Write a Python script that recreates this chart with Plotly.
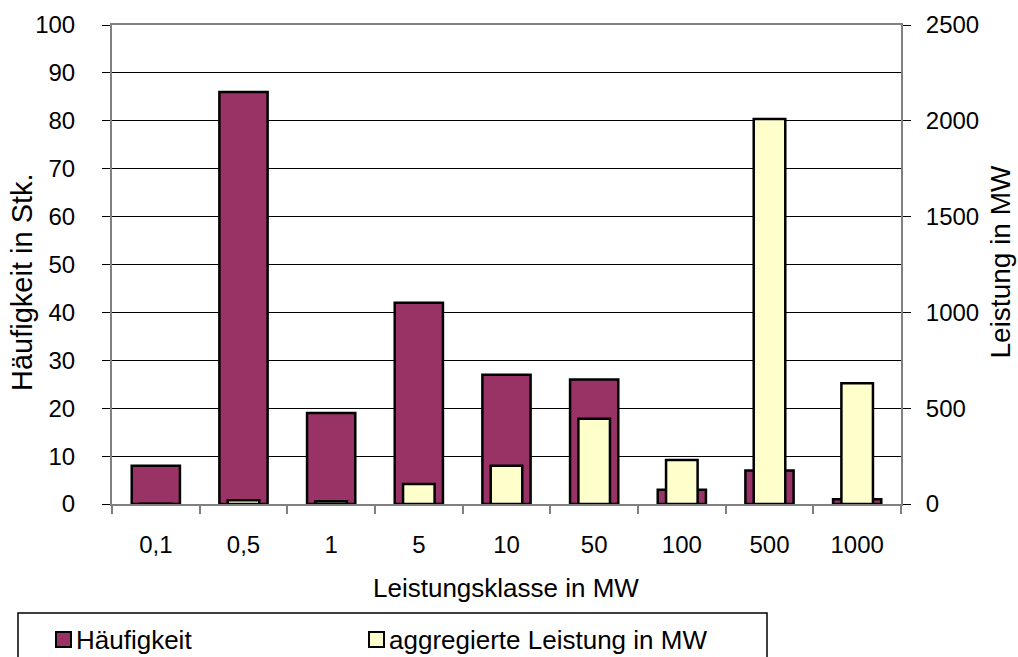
import plotly.graph_objects as go

# Leistungsklassen (MW)
klassen = ["0,1", "0,5", "1", "5", "10", "50", "100", "500", "1000"]
# Anzahl der Anlagen je Klasse
haeufigkeit = [8, 86, 19, 42, 27, 26, 3, 7, 1]
# Summierte Leistung je Klasse in MW
leistung = [0.8, 20, 15, 105, 200, 445, 230, 2010, 630]

left_ticks = list(range(0, 101, 10))
right_ticks = list(range(0, 2501, 500))

FONT = "Liberation Sans, Arial, sans-serif"
GREY = "#808080"
MAROON = "#993366"
CREAM = "#FFFFCC"

# plot area in pixels
L, R, T, B = 112, 901, 25, 504
PW, PH = R - L, B - T


def px(x):
    return (x - L) / PW


def py(y):
    return (B - y) / PH


fig = go.Figure()
fig.add_trace(go.Bar(
    x=klassen, y=haeufigkeit, name="Häufigkeit",
    width=0.55, yaxis="y",
    marker=dict(color=MAROON, line=dict(color="black", width=2.5)),
))
fig.add_trace(go.Bar(
    x=klassen, y=leistung, name="aggregierte Leistung in MW",
    width=0.36, yaxis="y2",
    marker=dict(color=CREAM, line=dict(color="black", width=2.5)),
))

# legend frame and swatches
shapes = [
    dict(type="rect", xref="paper", yref="paper",
         x0=px(18), x1=px(767), y0=py(613), y1=py(690),
         line=dict(color="black", width=1.5), fillcolor="rgba(0,0,0,0)"),
    dict(type="rect", xref="paper", yref="paper",
         x0=px(56), x1=px(71), y0=py(632), y1=py(647),
         line=dict(color="black", width=2), fillcolor=MAROON),
    dict(type="rect", xref="paper", yref="paper",
         x0=px(369), x1=px(384), y0=py(632), y1=py(647),
         line=dict(color="black", width=2), fillcolor=CREAM),
]

annotations = [
    dict(text="Häufigkeit", xref="paper", yref="paper",
         x=px(74), y=py(640), xanchor="left", yanchor="middle",
         showarrow=False, font=dict(family=FONT, size=26)),
    dict(text="aggregierte Leistung in MW", xref="paper", yref="paper",
         x=px(387), y=py(640), xanchor="left", yanchor="middle",
         showarrow=False, font=dict(family=FONT, size=26)),
    dict(text="Leistungsklasse in MW", xref="paper", yref="paper",
         x=px(506), y=py(588), xanchor="center", yanchor="middle",
         showarrow=False, font=dict(family=FONT, size=26)),
    dict(text="Häufigkeit in Stk.", xref="paper", yref="paper",
         x=px(22), y=py(282), xanchor="center", yanchor="middle",
         textangle=-90, showarrow=False, font=dict(family=FONT, size=29)),
    dict(text="Leistung in MW", xref="paper", yref="paper",
         x=px(1017), y=py(262), xanchor="right", yanchor="middle",
         textangle=-90, showarrow=False, font=dict(family=FONT, size=28)),
]

fig.update_layout(
    width=1018, height=657,
    margin=dict(l=L, r=1018 - R, t=T, b=657 - B),
    paper_bgcolor="white", plot_bgcolor="white",
    font=dict(family=FONT, size=24, color="black"),
    barmode="overlay",
    showlegend=False,
    xaxis=dict(
        type="category",
        showline=True, linecolor=GREY, linewidth=2, mirror=True,
        ticks="outside", tickson="boundaries", ticklen=8, tickcolor=GREY, tickwidth=2,
        ticklabelstandoff=18,
        showgrid=False,
    ),
    yaxis=dict(
        range=[0, 100], tickvals=left_ticks,
        showline=True, linecolor=GREY, linewidth=2,
        ticks="outside", ticklen=8, tickcolor="black", tickwidth=1,
        ticklabelstandoff=22,
        showgrid=True, gridcolor="black", gridwidth=1,
        zeroline=False,
    ),
    yaxis2=dict(
        range=[0, 2500], tickvals=right_ticks,
        overlaying="y", side="right",
        showline=True, linecolor=GREY, linewidth=2,
        ticks="outside", ticklen=8, tickcolor="black", tickwidth=1,
        ticklabelstandoff=10,
        showgrid=False, zeroline=False,
    ),
    shapes=shapes,
    annotations=annotations,
)

fig.write_html("out.html")
